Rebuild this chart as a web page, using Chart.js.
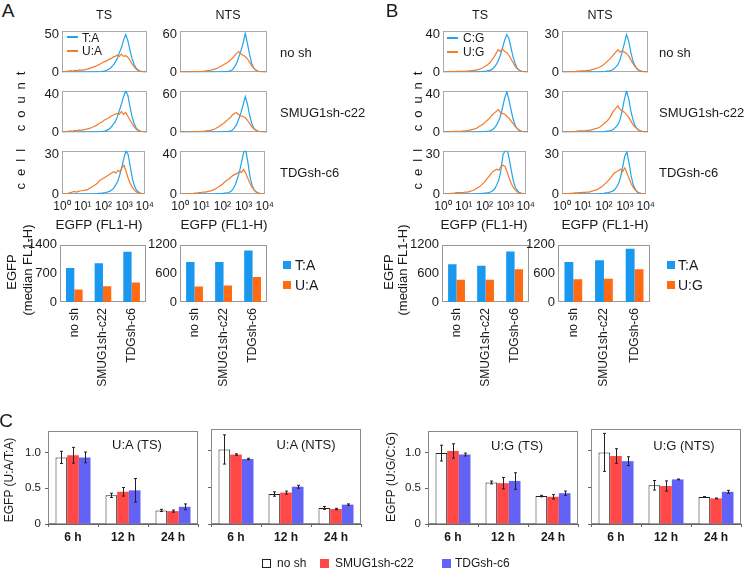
<!DOCTYPE html>
<html>
<head>
<meta charset="utf-8">
<script src="https://cdn.jsdelivr.net/npm/chart.js@4.4.1/dist/chart.umd.min.js"></script>
<style>
body { margin: 0; background: #fff; }
#fig { position: relative; width: 745px; height: 569px; overflow: hidden; font-family: "Liberation Sans", Arial, sans-serif; color: #1a1a1a; }
#fig canvas { position: absolute; }
.t { position: absolute; white-space: nowrap; line-height: 1; transform: translate(-50%, -50%); }
.l { position: absolute; white-space: nowrap; line-height: 1; transform: translate(0, -50%); }
.v { position: absolute; white-space: nowrap; line-height: 1; transform: translate(-50%, -50%) rotate(-90deg); }
.sw { position: absolute; }
</style>
</head>
<body>
<div id="fig"></div>
<script>
// ---- histogram data: log10 EGFP bins, cell counts ----
const bins = [0,0.1,0.2,0.3,0.4,0.5,0.6,0.7,0.8,0.9,1,1.1,1.2,1.3,1.4,1.5,1.6,1.7,1.8,1.9,2,2.1,2.2,2.3,2.4,2.5,2.6,2.7,2.8,2.9,3,3.1,3.2,3.3,3.4,3.5,3.6,3.7,3.8,3.9,4];
const sup = ['\u2070', '\u00b9', '\u00b2', '\u00b3', '\u2074'];

const aTsNoshTA = [0,0,0,0,0,0,0,0,0,0, 0,0,0,0,0.3,0,0.3,0.3,0.5,1, 1.5,2.5,4,6,9,13,18,26,33,43, 50,42,29,18,10,5,2.5,1,0.5,0,0];
const aTsNoshUA = [0,0.5,1,1.5,2,1.5,2.5,2,3,2.5, 3,3.5,4,5,6,7,8,9.5,11,12.5, 14,15,17,18,20,21,23,21,24,21, 22,20,16,11,7,4,2,1,0.5,0,0];
const aTsSmugTA = [0,0,0,0,0,0,0,0,0,0, 0,0,0,0,0,0.3,0,0.3,0.5,0.8, 1.2,2,3,5,8,11,16,23,30,38, 44,39,27,16,9,4,2,1,0.5,0,0];
const aTsSmugUA = [0,0,0.5,1,1.5,1,2,1.5,2.5,2, 2.5,3,3.5,4,5,6,7,8.5,10,11, 13,14,15,17,18,19,20,19,22,19, 21,17,13,9,6,3,1.5,1,0.5,0,0];
const aTsTdgTA = [0,0,0,0,0,0,0,0,0,0, 0,0,0,0,0,0,0.3,0.3,0.5,0.5, 0.8,1,1.5,2,3,4.5,7,10,15,21, 28,33,30,21,12,6,3,1.5,0.5,0,0];
const aTsTdgUA = [0,0,0,0.5,1,1.5,2,1.5,2,2.5, 2.5,3,3,4,5,6,7,8,10,11, 12,13,14,15,16,17,16,18,17,20, 22,17,12,8,5,3,1.5,1,0.5,0,0];

const aNtsNoshTA = [0,0,0,0,0,0,0,0,0,0, 0,0,0,0,0,0,0,0.3,0.3,0.5, 0.5,0.8,1,2,3.5,8,14,24,34,46, 62,46,28,14,6,3,1.5,0.8,0.3,0,0];
const aNtsNoshUA = [0,0,0,0,0.3,0.5,0.5,1,0.8,1, 1.5,1.5,2,2.5,3,4,5,6,8,10, 12,14,16,19,22,26,30,33,29,27, 25,21,16,10,6,3,1.5,0.8,0.3,0,0];
const aNtsSmugTA = [0,0,0,0,0,0,0,0,0,0, 0,0,0,0,0,0,0,0.3,0.3,0.5, 0.5,0.8,1,1.8,3,7,12,21,31,43, 57,45,27,14,6,3,1.5,0.8,0.3,0,0];
const aNtsSmugUA = [0,0,0,0,0.3,0.3,0.5,0.8,1,1, 1.5,1.5,2,2.5,3,4,5,7,9,12, 14,17,20,23,27,30,31,28,26,25, 23,19,14,9,5,3,1.5,0.8,0.3,0,0];
const aNtsTdgTA = [0,0,0,0,0,0,0,0,0,0, 0,0,0,0,0,0,0,0.3,0.3,0.5, 0.5,0.8,1,1.5,2.5,5,9,15,22,32, 42,45,33,18,9,4,2,1,0.3,0,0];
const aNtsTdgUA = [0,0,0,0,0.3,0.5,0.5,1,1,1.5, 1.5,2,2,2.5,3,3.5,4.5,5.5,7,8.5, 10,12,14,15,17,19,20,21,23,22, 25,21,16,11,7,4,2,1,0.5,0,0];

const bTsNoshCG = [0,0,0,0,0,0,0,0,0,0, 0,0,0,0,0,0,0,0.3,0.5,0.8, 1,1.5,2,3,5,8,12,18,26,34, 40,36,26,16,9,4,2,1,0.5,0,0];
const bTsNoshUG = [0,0.3,0.5,0.5,0.8,0.5,1,0.8,1,1, 1.2,1,1.5,1.5,2,2,2.5,3,4,5, 6.5,8,10,13,16,20,24,22,25,22, 21,18,14,10,6,3.5,2,1,0.5,0,0];
const bTsSmugCG = [0,0,0,0,0,0,0,0,0,0, 0,0,0,0,0,0,0,0.3,0.3,0.5, 0.8,1,1.5,2.5,4,7,11,17,26,36, 43,35,24,14,7,3.5,1.5,0.8,0.3,0,0];
const bTsSmugUG = [0,0,0.3,0.5,0.5,0.8,0.8,1,1,1.2, 1.5,1.5,2,2.5,3,3.5,4.5,6,7.5,9, 11,13,15,18,20,22,24,21,20,19, 17,15,12,9,6,3.5,2,1,0.5,0,0];
const bTsTdgCG = [0,0,0,0,0,0,0,0,0,0, 0,0,0,0,0,0,0,0.3,0.3,0.5, 0.5,0.8,1,1.5,2.5,4,7,11,18,30, 33,34,27,18,10,5,2.5,1,0.5,0,0];
const bTsTdgUG = [0,0,0,0.3,0.5,0.5,0.8,1,1,1, 1.2,1.5,1.5,2,2.5,3,4,5,6,7.5, 9,11,13,15,17,18,19,18,21,22, 21,17,12,8,5,3,1.5,0.8,0.3,0,0];

const bNtsNoshCG = [0,0,0,0,0,0,0,0,0,0, 0,0,0,0,0,0,0,0,0.3,0.3, 0.5,0.8,1,1.5,2.5,4,6,10,16,23, 30,25,16,9,5,2.5,1.2,0.5,0.3,0,0];
const bNtsNoshUG = [0,0,0,0.3,0.3,0.5,0.5,0.8,0.8,1, 1,1.2,1.5,1.5,2,2.5,3,3.5,4.5,5.5, 7,8.5,10,12,14,16,18,16,17,16, 15,13,10,7,4.5,2.5,1.5,0.8,0.3,0,0];
const bNtsSmugCG = [0,0,0,0,0,0,0,0,0,0, 0,0,0,0,0,0,0,0,0.3,0.3, 0.5,0.8,1,1.5,2.5,4,6,10,17,26, 33,27,17,10,5,2.5,1.2,0.5,0.3,0,0];
const bNtsSmugUG = [0,0,0,0.3,0.3,0.5,0.5,0.8,1,1, 1,1.2,1.5,1.5,2,2.5,3,3.5,4.5,6, 7.5,9,11,14,17,19,21,18,17,16, 14,12,9,6,4,2.5,1.5,0.8,0.3,0,0];
const bNtsTdgCG = [0,0,0,0,0,0,0,0,0,0, 0,0,0,0,0,0,0,0,0.3,0.3, 0.5,0.8,1,1.5,2,3,5,8,13,21, 29,32,24,14,7,3.5,1.5,0.8,0.3,0,0];
const bNtsTdgUG = [0,0,0.3,0.3,0.5,0.5,0.8,0.8,1,1, 1.2,1.2,1.5,1.5,2,2.5,3,3.5,4.5,5.5, 7,8.5,10,12,14,16,17,18,19,17, 20,16,12,8,5,3,1.5,0.8,0.3,0,0];

// ---- median EGFP bars ----
const shCats = ['no sh', 'SMUG1sh-c22', 'TDGsh-c6'];
const aTsMedianTA = [830, 950, 1230];
const aTsMedianUA = [308, 388, 475];
const aNtsMedianTA = [841, 841, 1078];
const aNtsMedianUA = [325, 346, 522];
const bTsMedianCG = [793, 759, 1058];
const bTsMedianUG = [468, 468, 685];
const bNtsMedianCG = [841, 875, 1119];
const bNtsMedianUG = [475, 488, 685];

// ---- panel C ratios (mean, error) ----
const timeCats = ['6 h', '12 h', '24 h'];
const uaTsNosh = [0.93, 0.40, 0.19],  uaTsNoshErr = [0.085, 0.03, 0.015];
const uaTsSmug = [0.96, 0.45, 0.18],  uaTsSmugErr = [0.11, 0.06, 0.015];
const uaTsTdg  = [0.93, 0.47, 0.24],  uaTsTdgErr  = [0.075, 0.165, 0.04];
const uaNtsNosh = [1.02, 0.41, 0.22], uaNtsNoshErr = [0.2, 0.03, 0.02];
const uaNtsSmug = [0.95, 0.43, 0.205], uaNtsSmugErr = [0.01, 0.02, 0.01];
const uaNtsTdg  = [0.89, 0.51, 0.265], uaNtsTdgErr  = [0.01, 0.02, 0.01];
const ugTsNosh = [0.99, 0.58, 0.39],  ugTsNoshErr = [0.11, 0.02, 0.01];
const ugTsSmug = [1.02, 0.57, 0.38],  ugTsSmugErr = [0.1, 0.08, 0.03];
const ugTsTdg  = [0.97, 0.60, 0.43],  ugTsTdgErr  = [0.02, 0.115, 0.03];
const ugNtsNosh = [0.98, 0.53, 0.37], ugNtsNoshErr = [0.26, 0.065, 0.005];
const ugNtsSmug = [0.93, 0.52, 0.35], ugNtsSmugErr = [0.1, 0.07, 0.005];
const ugNtsTdg  = [0.86, 0.61, 0.44], ugNtsTdgErr  = [0.06, 0.005, 0.02];

const lineBlue = '#1fa5ee', lineOrange = '#f37b2b';
const barBlue = '#1a98f0', barOrange = '#ff6a12';
const cRed = '#ff4848', cBlue = '#6262f7';

Chart.defaults.font.family = '"Liberation Sans", Arial, sans-serif';
Chart.defaults.color = '#1a1a1a';

const fig = document.getElementById('fig');

function addCanvas(x, y, w, h) {
  const c = document.createElement('canvas');
  c.width = w; c.height = h;
  c.style.left = x + 'px'; c.style.top = y + 'px';
  c.style.width = w + 'px'; c.style.height = h + 'px';
  fig.appendChild(c);
  return c;
}

function txt(s, x, y, size, cls, extra) {
  const d = document.createElement('div');
  d.className = cls;
  d.textContent = s;
  d.style.left = x + 'px';
  d.style.top = y + 'px';
  d.style.fontSize = size + 'px';
  if (extra) Object.assign(d.style, extra);
  fig.appendChild(d);
}

function swatch(x, y, w, h, style) {
  const d = document.createElement('div');
  d.className = 'sw';
  Object.assign(d.style, { left: x + 'px', top: y + 'px', width: w + 'px', height: h + 'px', boxSizing: 'border-box' }, style);
  fig.appendChild(d);
}

// box round the plot area
const frame = {
  id: 'frame',
  beforeDatasetsDraw(chart, args, opts) {
    const a = chart.chartArea, ctx = chart.ctx;
    ctx.save();
    ctx.strokeStyle = opts.color || '#999';
    ctx.lineWidth = 1;
    ctx.strokeRect(Math.round(a.left) + 0.5, Math.round(a.top) + 0.5, Math.round(a.width) - 1, Math.round(a.height) - 1);
    ctx.restore();
  }
};

// vertical error lines for panel C
const errorBars = {
  id: 'errorBars',
  afterDatasetsDraw(chart) {
    const ctx = chart.ctx, y = chart.scales.y;
    ctx.save();
    ctx.strokeStyle = '#222';
    ctx.lineWidth = 1;
    chart.data.datasets.forEach((ds, i) => {
      if (!ds.err) return;
      chart.getDatasetMeta(i).data.forEach((bar, j) => {
        const top = y.getPixelForValue(ds.data[j] + ds.err[j]);
        const bot = y.getPixelForValue(ds.data[j] - ds.err[j]);
        const x = Math.round(bar.x) + 0.5;
        ctx.beginPath();
        ctx.moveTo(x, top); ctx.lineTo(x, bot);
        ctx.moveTo(x - 1.5, top); ctx.lineTo(x + 1.5, top);
        ctx.moveTo(x - 1.5, bot); ctx.lineTo(x + 1.5, bot);
        ctx.stroke();
      });
    });
    ctx.restore();
  }
};

function hist(L, T, W, H, yTop, blue, orange, xLabels) {
  const m = { l: 30, t: 9, r: 12, b: xLabels ? 22 : 9 };
  const c = addCanvas(L - m.l, T - m.t, W + m.l + m.r, H + m.t + m.b);
  new Chart(c, {
    type: 'line',
    data: {
      datasets: [
        { data: bins.map((x, i) => ({ x: x, y: orange[i] })), borderColor: lineOrange, borderWidth: 1.2, pointRadius: 0 },
        { data: bins.map((x, i) => ({ x: x, y: blue[i] })), borderColor: lineBlue, borderWidth: 1.2, pointRadius: 0 }
      ]
    },
    options: {
      responsive: false, animation: false, events: [],
      layout: { padding: { left: 0, top: m.t, right: m.r, bottom: xLabels ? 0 : m.b } },
      plugins: { legend: { display: false }, tooltip: { enabled: false }, frame: { color: '#aaa' } },
      scales: {
        x: {
          type: 'linear', min: 0, max: 4,
          afterFit: s => { s.height = xLabels ? m.b : 0; },
          grid: { display: false, drawTicks: false }, border: { display: false },
          ticks: { display: xLabels, stepSize: 1, autoSkip: false, maxRotation: 0, padding: 5, font: { size: 12 },
                   callback: v => '10' + sup[v] }
        },
        y: {
          min: 0, max: yTop * 1.1,
          afterBuildTicks: s => { s.ticks = [{ value: 0 }, { value: yTop }]; },
          afterFit: s => { s.width = m.l; },
          grid: { display: false, drawTicks: false }, border: { display: false },
          ticks: { padding: 3, font: { size: 13 }, callback: v => String(v) }
        }
      }
    },
    plugins: [frame]
  });
}

function medianBars(L, T, W, H, yTicks, blue, orange) {
  const m = { l: 40, t: 9, r: 6, b: 95 };
  const c = addCanvas(L - m.l, T - m.t, W + m.l + m.r, H + m.t + m.b);
  new Chart(c, {
    type: 'bar',
    data: {
      labels: shCats,
      datasets: [
        { data: blue, backgroundColor: barBlue },
        { data: orange, backgroundColor: barOrange }
      ]
    },
    options: {
      responsive: false, animation: false, events: [],
      datasets: { bar: { categoryPercentage: 0.58, barPercentage: 1 } },
      layout: { padding: { left: 0, top: m.t, right: m.r, bottom: 0 } },
      plugins: { legend: { display: false }, tooltip: { enabled: false }, frame: { color: '#999' } },
      scales: {
        x: {
          afterFit: s => { s.height = m.b; },
          grid: { display: false, drawTicks: false }, border: { display: false },
          ticks: { minRotation: 90, maxRotation: 90, autoSkip: false, padding: 6, font: { size: 12 } }
        },
        y: {
          min: 0, max: yTicks[yTicks.length - 1],
          afterBuildTicks: s => { s.ticks = yTicks.map(v => ({ value: v })); },
          afterFit: s => { s.width = m.l; },
          grid: { display: false, drawTicks: false }, border: { display: false },
          ticks: { padding: 3, font: { size: 13 }, callback: v => String(v) }
        }
      }
    },
    plugins: [frame]
  });
}

function ratioBars(L, T, W, H, yLabels, nosh, noshErr, smug, smugErr, tdg, tdgErr) {
  const m = { l: 40, t: 9, r: 4, b: 26 };
  const c = addCanvas(L - m.l, T - m.t, W + m.l + m.r, H + m.t + m.b);
  new Chart(c, {
    type: 'bar',
    data: {
      labels: timeCats,
      datasets: [
        { data: nosh, err: noshErr, backgroundColor: '#fff', borderColor: '#222', borderWidth: 1 },
        { data: smug, err: smugErr, backgroundColor: cRed },
        { data: tdg, err: tdgErr, backgroundColor: cBlue }
      ]
    },
    options: {
      responsive: false, animation: false, events: [],
      datasets: { bar: { categoryPercentage: 0.7, barPercentage: 1 } },
      layout: { padding: { left: 0, top: m.t, right: m.r, bottom: 0 } },
      plugins: { legend: { display: false }, tooltip: { enabled: false }, frame: { color: '#8a8a8a' } },
      scales: {
        x: {
          afterFit: s => { s.height = m.b; },
          grid: { display: true, drawOnChartArea: false, offset: true, tickLength: 3, color: '#666' },
          border: { display: true, color: '#666' },
          ticks: { padding: 3, font: { size: 12, weight: 'bold' } }
        },
        y: {
          min: 0, max: 1.3,
          afterBuildTicks: s => { s.ticks = [0, 0.5, 1].map(v => ({ value: v })); },
          afterFit: s => { s.width = m.l; },
          grid: { display: true, drawOnChartArea: false, tickLength: 3, color: '#666' },
          border: { display: false },
          ticks: { display: yLabels, padding: 4, font: { size: 11.5 }, callback: v => v === 0 ? '0' : v.toFixed(1) }
        }
      }
    },
    plugins: [frame, errorBars]
  });
}

// ---- panel A histograms ----
hist(62, 29, 85, 45, 50, aTsNoshTA, aTsNoshUA, false);
hist(62, 89, 85, 45, 40, aTsSmugTA, aTsSmugUA, false);
hist(62, 149, 85, 45, 30, aTsTdgTA, aTsTdgUA, true);
hist(180, 29, 87, 45, 60, aNtsNoshTA, aNtsNoshUA, false);
hist(180, 89, 87, 45, 60, aNtsSmugTA, aNtsSmugUA, false);
hist(180, 149, 87, 45, 40, aNtsTdgTA, aNtsTdgUA, true);
// ---- panel B histograms ----
hist(443, 29, 85, 45, 40, bTsNoshCG, bTsNoshUG, false);
hist(443, 89, 85, 45, 40, bTsSmugCG, bTsSmugUG, false);
hist(443, 149, 85, 45, 30, bTsTdgCG, bTsTdgUG, true);
hist(562, 29, 86, 45, 30, bNtsNoshCG, bNtsNoshUG, false);
hist(562, 89, 86, 45, 30, bNtsSmugCG, bNtsSmugUG, false);
hist(562, 149, 86, 45, 30, bNtsTdgCG, bNtsTdgUG, true);

// ---- median bars ----
medianBars(60, 243, 87, 59, [0, 700, 1400], aTsMedianTA, aTsMedianUA);
medianBars(180, 243, 88, 59, [0, 600, 1200], aNtsMedianTA, aNtsMedianUA);
medianBars(442, 243, 88, 59, [0, 600, 1200], bTsMedianCG, bTsMedianUG);
medianBars(558, 243, 92, 59, [0, 600, 1200], bNtsMedianCG, bNtsMedianUG);

// ---- panel C ----
ratioBars(48, 429, 150, 95, true, uaTsNosh, uaTsNoshErr, uaTsSmug, uaTsSmugErr, uaTsTdg, uaTsTdgErr);
ratioBars(211, 429, 150, 95, false, uaNtsNosh, uaNtsNoshErr, uaNtsSmug, uaNtsSmugErr, uaNtsTdg, uaNtsTdgErr);
ratioBars(428, 429, 150, 95, true, ugTsNosh, ugTsNoshErr, ugTsSmug, ugTsSmugErr, ugTsTdg, ugTsTdgErr);
ratioBars(591, 429, 150, 95, false, ugNtsNosh, ugNtsNoshErr, ugNtsSmug, ugNtsSmugErr, ugNtsTdg, ugNtsTdgErr);

// ---- text ----
txt('A', 8, 10, 19, 't');
txt('B', 392, 10, 19, 't');
txt('C', 6, 420, 19, 't');
txt('TS', 104, 15, 12.5, 't');
txt('NTS', 228, 15, 12.5, 't');
txt('TS', 480, 15, 12.5, 't');
txt('NTS', 600, 15, 12.5, 't');

[['no sh', 52], ['SMUG1sh-c22', 112], ['TDGsh-c6', 172]].forEach(r => {
  txt(r[0], 280, r[1], 13, 'l');
  txt(r[0], 659, r[1], 13, 'l');
});

txt('cell count', 20, 127, 13, 'v', { letterSpacing: '7px' });
txt('cell count', 417, 127, 13, 'v', { letterSpacing: '7px' });

// histogram legends
swatch(67, 36, 11, 2, { background: lineBlue });
txt('T:A', 82, 37.5, 12, 'l');
swatch(67, 50, 11, 2, { background: lineOrange });
txt('U:A', 82, 51, 12, 'l');
swatch(447, 37, 11, 2, { background: lineBlue });
txt('C:G', 463, 38, 12, 'l');
swatch(447, 51, 11, 2, { background: lineOrange });
txt('U:G', 463, 52, 12, 'l');

txt('EGFP (FL1-H)', 99, 225, 13.5, 't');
txt('EGFP (FL1-H)', 224, 225, 13.5, 't');
txt('EGFP (FL1-H)', 484, 225, 13.5, 't');
txt('EGFP (FL1-H)', 605, 225, 13.5, 't');

txt('EGFP', 10.5, 272, 13, 'v');
txt('(median FL1-H)', 27, 270, 13, 'v');
txt('EGFP', 388, 272, 13, 'v');
txt('(median FL1-H)', 402, 270, 13, 'v');

// bar legends
swatch(283, 261, 8, 8, { background: barBlue });
txt('T:A', 295, 265, 14, 'l');
swatch(283, 281, 8, 8, { background: barOrange });
txt('U:A', 295, 285, 14, 'l');
swatch(667, 261, 8, 8, { background: barBlue });
txt('T:A', 678, 265, 14, 'l');
swatch(667, 281, 8, 8, { background: barOrange });
txt('U:G', 678, 285, 14, 'l');

// panel C titles and axis titles
txt('U:A (TS)', 137, 444, 13, 't');
txt('U:A (NTS)', 306, 444, 13, 't');
txt('U:G (TS)', 517, 445, 13, 't');
txt('U:G (NTS)', 684, 445, 13, 't');
txt('EGFP (U:A/T:A)', 9, 480, 12, 'v');
txt('EGFP (U:G/C:G)', 391, 477, 12, 'v');

// panel C legend
swatch(262, 559, 9, 9, { background: '#fff', border: '1px solid #222' });
txt('no sh', 277, 563, 12, 'l');
swatch(320, 559, 9, 9, { background: cRed });
txt('SMUG1sh-c22', 335, 563, 12, 'l');
swatch(442, 559, 9, 9, { background: cBlue });
txt('TDGsh-c6', 455, 563, 12, 'l');
</script>
</body>
</html>
